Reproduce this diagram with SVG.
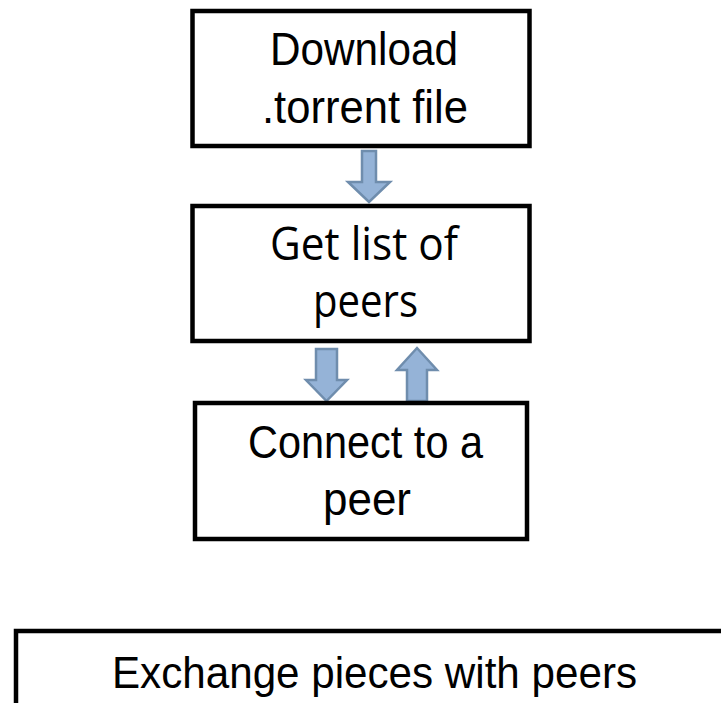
<svg xmlns="http://www.w3.org/2000/svg" width="721" height="703" viewBox="0 0 721 703">
<style>
.box{fill:#fff;stroke:#000;stroke-width:4.5}
.arr{fill:#95B3D7;stroke:#6F8DAD;stroke-width:2.5;stroke-linejoin:miter}
.t1{font-family:"Liberation Sans",Arial,sans-serif;font-size:47px;fill:#000;text-anchor:middle}
.t2{font-family:"Open Sans","Noto Sans",sans-serif;font-size:45px;fill:#000;text-anchor:middle}
.t4{font-family:"Liberation Sans",Arial,sans-serif;font-size:44px;fill:#000;text-anchor:middle}
</style>
<rect width="721" height="703" fill="#fff"/>
<g id="connectors">
<polygon class="arr" points="362,151 376,151 376,182 390,182 369,202 348,182 362,182"/>
<polygon class="arr" points="316,349 337,349 337,380 347,380 326.5,401 306,380 316,380"/>
<polygon class="arr" points="407,401 427,401 427,370 437,370 417,348 397,370 407,370"/>
</g>
<g id="node-download">
<rect class="box" x="192.5" y="11" width="337" height="135"/>
<text class="t1" x="364" y="65" textLength="188" lengthAdjust="spacingAndGlyphs">Download</text>
<text class="t1" x="365" y="123" textLength="206" lengthAdjust="spacingAndGlyphs">.torrent file</text>
</g>
<g id="node-peers">
<rect class="box" x="192.5" y="206" width="337" height="135"/>
<text class="t2" x="364" y="260" textLength="188" lengthAdjust="spacingAndGlyphs">Get list of</text>
<text class="t2" x="365.5" y="317" textLength="105" lengthAdjust="spacingAndGlyphs">peers</text>
</g>
<g id="node-connect">
<rect class="box" x="195" y="403" width="332" height="136"/>
<text class="t1" x="365.5" y="458" textLength="235" lengthAdjust="spacingAndGlyphs">Connect to a</text>
<text class="t1" x="367" y="515" textLength="88" lengthAdjust="spacingAndGlyphs">peer</text>
</g>
<g id="node-exchange">
<rect class="box" x="16" y="631" width="720" height="100"/>
<text class="t4" x="374.5" y="688" textLength="525" lengthAdjust="spacingAndGlyphs">Exchange pieces with peers</text>
</g>
</svg>
